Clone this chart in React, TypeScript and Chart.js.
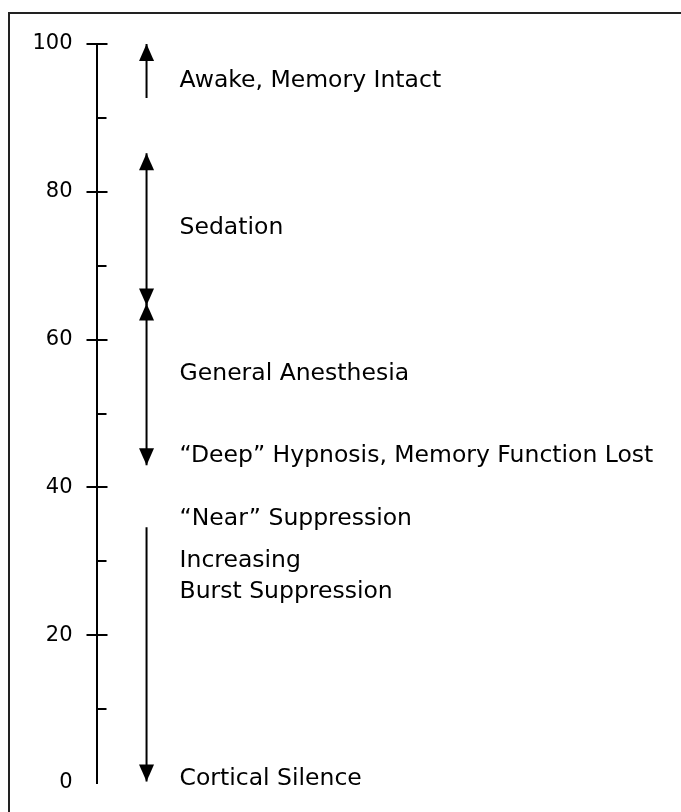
import React, { useEffect, useRef } from 'react';
import { Chart, registerables } from 'chart.js';

Chart.register(...registerables);

// Scale (BIS index)
const axisMin = 0;
const axisMax = 100;
const tickStep = 10;
const majorTicks = [20, 40, 60, 80, 100];
const minorTicks = [10, 30, 50, 70, 90];

// Arrows (values on the index scale)
const arrowNames = ['Awake', 'Sedation', 'General Anesthesia', 'Burst Suppression'];
const arrowStart = [92.7, 85.2, 64.9, 34.6];
const arrowEnd = [100, 64.6, 43.0, 0.2];
const headAtStart = [false, true, true, false];
const headAtEnd = [true, true, true, true];

// Stage labels
const stageLabels = [
  'Awake, Memory Intact',
  'Sedation',
  'General Anesthesia',
  '\u201CDeep\u201D Hypnosis, Memory Function Lost',
  '\u201CNear\u201D Suppression',
  'Increasing',
  'Burst Suppression',
  'Cortical Silence',
];
const stageValues = [95.0, 75.1, 55.4, 44.3, 35.8, 30.1, 25.9, 0.5];

const INK = '#000000';
const ARROW_X = 50;
const LABEL_X = 83;
const LABEL_FONT = '23.5px "DejaVu Sans"';

function drawHead(ctx: CanvasRenderingContext2D, px: number, tipY: number, up: boolean) {
  const s = up ? 1 : -1;
  const h = 17;
  const w = 7.5;
  ctx.beginPath();
  ctx.moveTo(px, tipY);
  ctx.lineTo(px - w, tipY + s * h);
  ctx.lineTo(px + w, tipY + s * h);
  ctx.closePath();
  ctx.fill();
}

const overlay = {
  id: 'overlay',
  beforeDraw(chart: any) {
    const { ctx, width, height } = chart;
    ctx.save();
    ctx.fillStyle = '#ffffff';
    ctx.fillRect(0, 0, width, height);
    ctx.strokeStyle = '#222222';
    ctx.lineWidth = 2;
    ctx.beginPath();
    ctx.moveTo(8, 13);
    ctx.lineTo(width, 13);
    ctx.moveTo(9, 12);
    ctx.lineTo(9, height);
    ctx.stroke();
    ctx.restore();
  },
  afterDatasetsDraw(chart: any) {
    const { ctx, chartArea } = chart;
    const xs = chart.scales.x;
    const ys = chart.scales.y;
    ctx.save();
    // right-hand halves of the ticks
    ctx.strokeStyle = INK;
    ctx.lineWidth = 2;
    const ax = chartArea.left;
    ctx.beginPath();
    majorTicks.forEach((v) => {
      const py = Math.round(ys.getPixelForValue(v));
      ctx.moveTo(ax, py);
      ctx.lineTo(ax + 11, py);
    });
    minorTicks.forEach((v) => {
      const py = Math.round(ys.getPixelForValue(v));
      ctx.moveTo(ax, py);
      ctx.lineTo(ax + 10, py);
    });
    ctx.stroke();

    // arrowheads
    ctx.fillStyle = INK;
    const px = xs.getPixelForValue(ARROW_X);
    arrowNames.forEach((_, i) => {
      const up = arrowEnd[i] > arrowStart[i];
      if (headAtEnd[i]) drawHead(ctx, px, ys.getPixelForValue(arrowEnd[i]), up);
      if (headAtStart[i]) drawHead(ctx, px, ys.getPixelForValue(arrowStart[i]), !up);
    });

    // stage labels
    ctx.font = LABEL_FONT;
    ctx.textAlign = 'left';
    ctx.textBaseline = 'middle';
    const lx = xs.getPixelForValue(LABEL_X);
    stageLabels.forEach((t, i) => {
      ctx.fillText(t, lx, ys.getPixelForValue(stageValues[i]));
    });
    ctx.restore();
  },
};

export default function App() {
  const ref = useRef<HTMLCanvasElement>(null);

  useEffect(() => {
    if (!ref.current) return;
    const datasets = arrowNames.map((name, i) => ({
      label: name,
      data: [
        { x: ARROW_X, y: arrowStart[i] },
        { x: ARROW_X, y: arrowEnd[i] },
      ],
      showLine: true,
      borderColor: INK,
      backgroundColor: INK,
      borderWidth: 2,
      pointRadius: 0,
      pointHoverRadius: 0,
    }));
    const chart = new Chart(ref.current, {
      type: 'scatter',
      data: { datasets },
      options: {
        responsive: false,
        animation: false,
        devicePixelRatio: 1,
        layout: { padding: { left: 8, top: 44, bottom: 29, right: 0 } },
        plugins: { legend: { display: false }, tooltip: { enabled: false } },
        scales: {
          x: { type: 'linear', min: 0, max: 584, display: false },
          y: {
            type: 'linear',
            position: 'left',
            min: axisMin,
            max: axisMax,
            afterFit: (s: any) => {
              s.width = 88.5;
            },
            ticks: {
              stepSize: tickStep,
              autoSkip: false,
              padding: 14,
              color: INK,
              font: { family: '"DejaVu Sans"', size: 21 },
              callback: (v: any) => (Number(v) % 20 === 0 ? String(v) : ''),
            },
            grid: {
              display: true,
              drawOnChartArea: false,
              drawTicks: true,
              tickLength: 10,
              lineWidth: 2,
              color: (c: any) =>
                c.tick && majorTicks.includes(c.tick.value) ? INK : 'rgba(0,0,0,0)',
            },
            border: { display: true, color: INK, width: 2 },
          },
        },
      },
      plugins: [overlay],
    } as any);
    return () => chart.destroy();
  }, []);

  return (
    <div style={{ position: 'absolute', left: 0, top: 0, width: 681, height: 812 }}>
      <canvas ref={ref} width={681} height={812} style={{ display: 'block' }} />
    </div>
  );
}
